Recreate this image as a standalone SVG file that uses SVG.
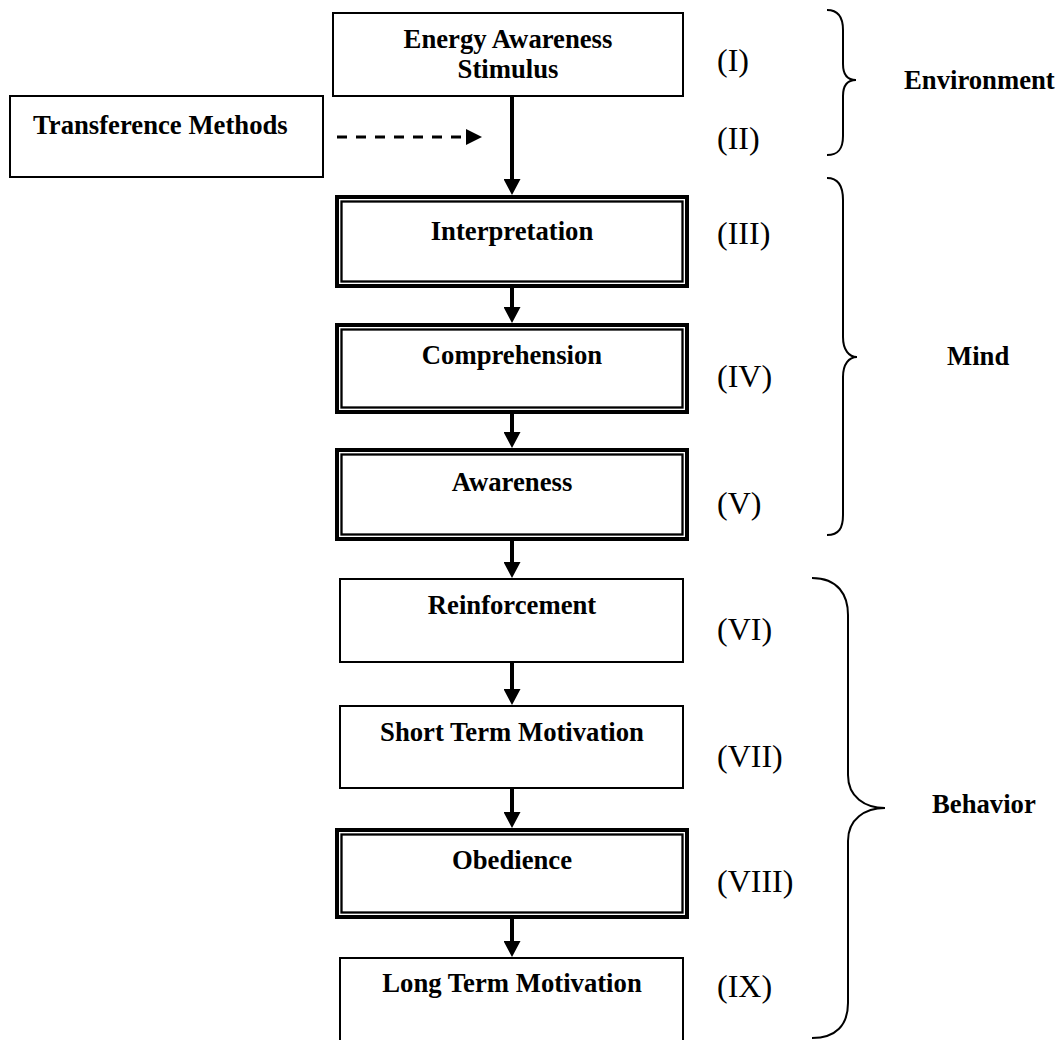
<svg xmlns="http://www.w3.org/2000/svg" width="1058" height="1040" viewBox="0 0 1058 1040">
<style>
.box{fill:#fff;stroke:#000;stroke-width:2}
.outer{fill:#fff;stroke:#000;stroke-width:4}
.inner{fill:none;stroke:#000;stroke-width:2.3}
.lbl{font-family:"Liberation Serif","Times New Roman",serif;font-weight:bold;font-size:26.7px;fill:#000;text-anchor:middle}
.num{font-family:"Liberation Serif","Times New Roman",serif;font-size:32px;fill:#000}
.grp{font-family:"Liberation Serif","Times New Roman",serif;font-weight:bold;font-size:26.7px;fill:#000}
.arr{stroke:#000;stroke-width:4;fill:none;marker-end:url(#ah)}
.dash{stroke:#000;stroke-width:3;fill:none;stroke-dasharray:10 9}
.brace{stroke:#000;stroke-width:2;fill:none}
</style>
<defs>
<marker id="ah" markerUnits="userSpaceOnUse" markerWidth="17" markerHeight="17" refX="6" refY="8.5" orient="auto">
<path d="M0,0 L16,8.5 L0,17 z" fill="#000"/>
</marker>
</defs>
<rect width="1058" height="1040" fill="#fff"/>

<g id="n-energy">
<rect class="box" x="333" y="13" width="350" height="83"/>
<text class="lbl" x="508" y="48">Energy Awareness</text>
<text class="lbl" x="508" y="78">Stimulus</text>
</g>
<g id="n-transference">
<rect class="box" x="10" y="96" width="313" height="81"/>
<text class="lbl" x="33" y="134" style="text-anchor:start">Transference Methods</text>
</g>
<g id="n-interpretation">
<rect class="outer" x="337" y="197" width="350" height="89"/>
<rect class="inner" x="341.5" y="201.5" width="341" height="80"/>
<text class="lbl" x="512" y="240">Interpretation</text>
</g>
<g id="n-comprehension">
<rect class="outer" x="337" y="325" width="350" height="87"/>
<rect class="inner" x="341.5" y="329.5" width="341" height="78"/>
<text class="lbl" x="512" y="364">Comprehension</text>
</g>
<g id="n-awareness">
<rect class="outer" x="337" y="450" width="350" height="89"/>
<rect class="inner" x="341.5" y="454.5" width="341" height="80"/>
<text class="lbl" x="512" y="491">Awareness</text>
</g>
<g id="n-reinforcement">
<rect class="box" x="340" y="579" width="343" height="83"/>
<text class="lbl" x="512" y="614">Reinforcement</text>
</g>
<g id="n-stm">
<rect class="box" x="340" y="706" width="343" height="82"/>
<text class="lbl" x="512" y="741">Short Term Motivation</text>
</g>
<g id="n-obedience">
<rect class="outer" x="337" y="830" width="350" height="87"/>
<rect class="inner" x="341.5" y="834.5" width="341" height="78"/>
<text class="lbl" x="512" y="869">Obedience</text>
</g>
<g id="n-ltm">
<rect class="box" x="340" y="958" width="343" height="100"/>
<text class="lbl" x="512" y="992">Long Term Motivation</text>
</g>

<g id="connectors">
<line class="arr" x1="512" y1="97" x2="512" y2="185"/>
<line class="arr" x1="512" y1="288" x2="512" y2="313"/>
<line class="arr" x1="512" y1="414" x2="512" y2="438"/>
<line class="arr" x1="512" y1="541" x2="512" y2="568"/>
<line class="arr" x1="512" y1="663" x2="512" y2="695"/>
<line class="arr" x1="512" y1="789" x2="512" y2="818"/>
<line class="arr" x1="512" y1="919" x2="512" y2="947"/>
<line class="dash" x1="337" y1="137" x2="461" y2="137"/>
<path d="M466,129 L482,137 L466,145 z" fill="#000"/>
</g>

<g id="numerals">
<text class="num" x="717" y="71">(I)</text>
<text class="num" x="717" y="149">(II)</text>
<text class="num" x="717" y="244">(III)</text>
<text class="num" x="717" y="387">(IV)</text>
<text class="num" x="717" y="514">(V)</text>
<text class="num" x="717" y="640">(VI)</text>
<text class="num" x="717" y="767">(VII)</text>
<text class="num" x="717" y="892">(VIII)</text>
<text class="num" x="717" y="997">(IX)</text>
</g>

<g id="braces">
<path class="brace" d="M827,10 C839,10 843,18 843,30 L843,64 C843,75 848,80 856,80 C848,80 843,85 843,96 L843,136 C843,148 839,155 827,155"/>
<path class="brace" d="M827,178 C840,178 843,188 843,200 L843,337 C843,350 849,357 857,357 C849,357 843,364 843,377 L843,515 C843,528 839,535 827,535"/>
<path class="brace" d="M812,578 C838,578 848,595 848,615 L848,775 C848,797 865,808 885,808 C865,808 848,819 848,841 L848,1003 C848,1025 836,1038 812,1038"/>
<text class="grp" x="904" y="89">Environment</text>
<text class="grp" x="947" y="365">Mind</text>
<text class="grp" x="932" y="813">Behavior</text>
</g>
</svg>
